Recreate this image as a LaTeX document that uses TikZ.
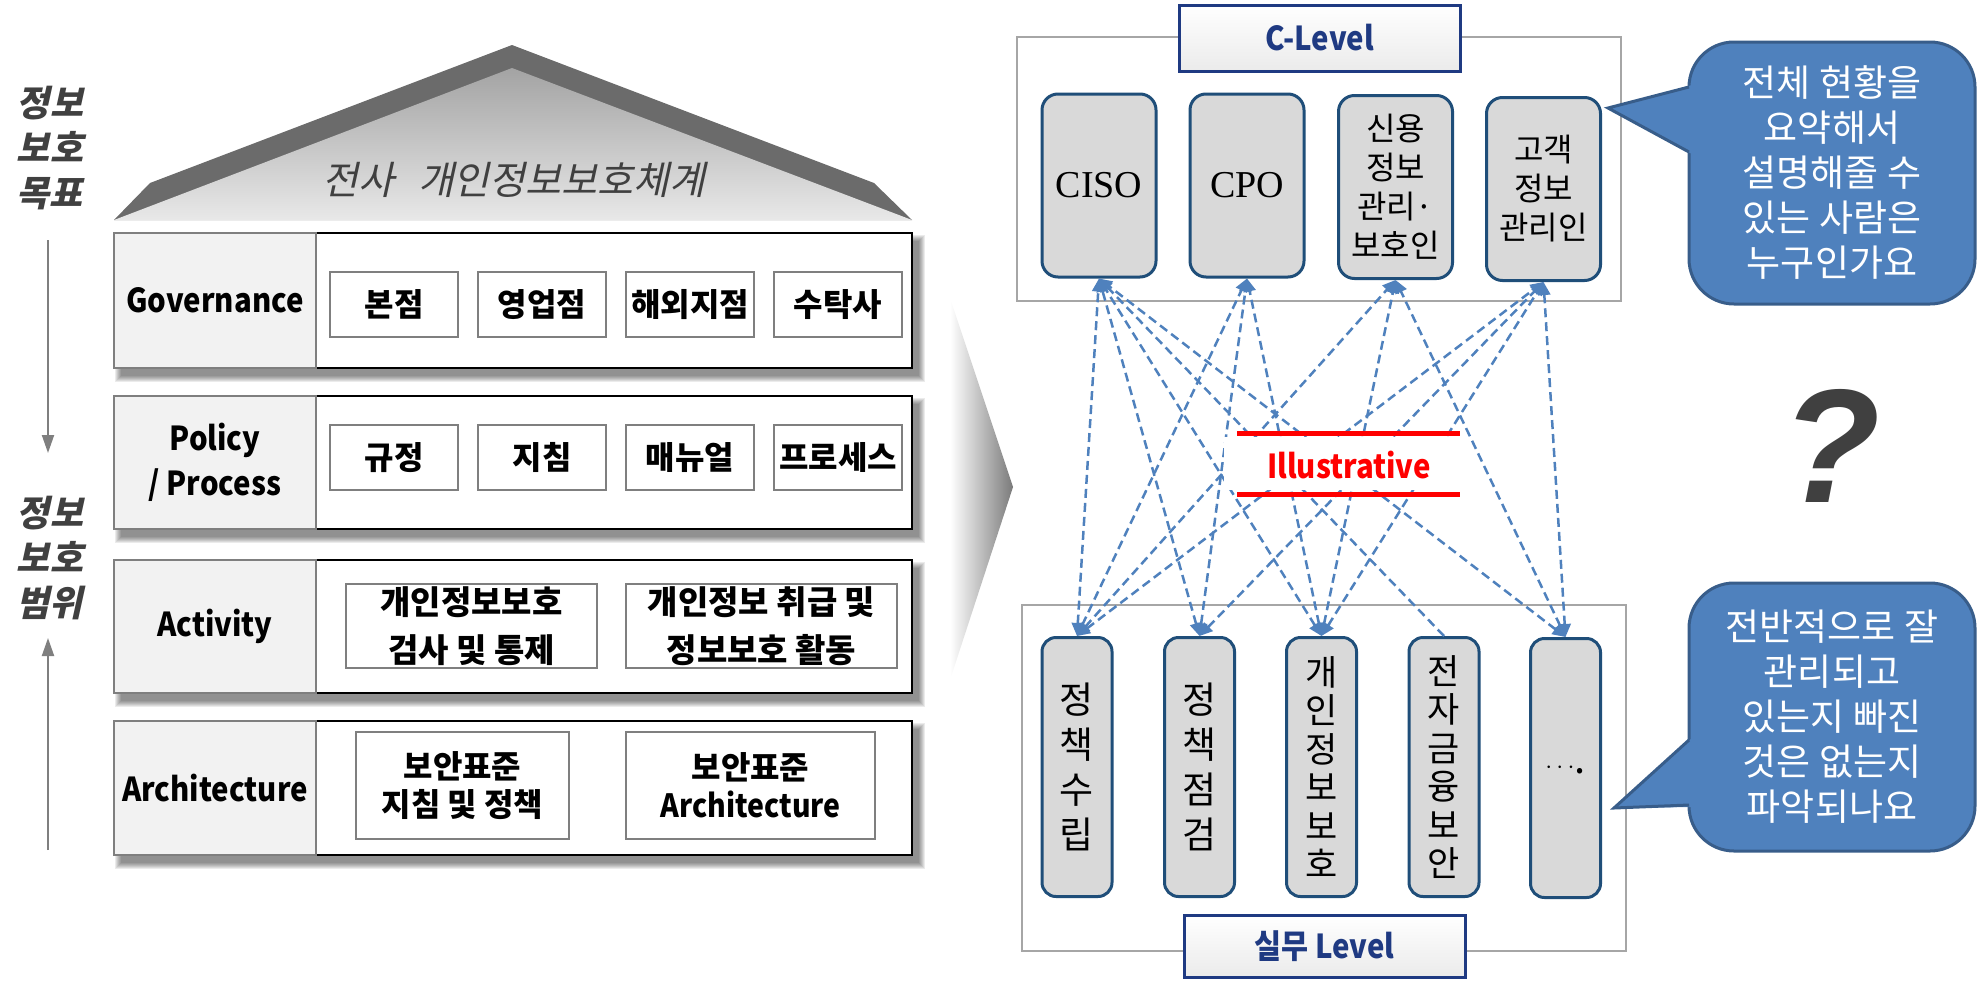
\documentclass[tikz,border=0pt]{standalone}
\usepackage{fontspec}
\setmainfont{Liberation Serif}
\newfontfamily\kr{Noto Sans CJK KR}
\newfontfamily\krsl{Noto Sans CJK KR}[FakeSlant=0.22]
\newfontfamily\krn{Noto Sans CJK KR}[FakeStretch=0.89]
\newfontfamily\lsans{Liberation Sans}
\usetikzlibrary{arrows.meta}

\definecolor{roofdark}{HTML}{6B6B6B}
\definecolor{txtgray}{HTML}{404040}
\definecolor{cellgray}{HTML}{F2F2F2}
\definecolor{edgegray}{HTML}{7F7F7F}
\definecolor{framegray}{HTML}{A6A6A6}
\definecolor{navy}{HTML}{1F3A82}
\definecolor{boxfill}{HTML}{D9D9D9}
\definecolor{boxedge}{HTML}{1F4E79}
\definecolor{linkblue}{HTML}{4F81BD}
\definecolor{bubbleedge}{HTML}{385D8A}

\newcommand\fs[2]{\fontsize{#1}{#2}\selectfont}
% soft shadow under a layer row (top y, bottom y)
\newcommand\rowshadow[2]{%
  \foreach \r in {0,...,6}{\fill[black,opacity=0.08] (121-\r,#1+8-\r) rectangle (919+\r,#2+8+\r);}}

\begin{document}
\begin{tikzpicture}[x=1pt,y=-1pt,
  cell/.style={draw=edgegray, line width=2pt, fill=cellgray, inner sep=0pt, align=center, font=\krn\bfseries\fs{33}{45}},
  item/.style={draw=edgegray, line width=1.5pt, fill=white, inner sep=0pt, align=center, font=\kr\bfseries\fs{32}{38}},
  lvl/.style={draw=navy, line width=3pt, top color=white, bottom color=black!8, text=navy, inner sep=0pt, font=\krn\bfseries\fs{33}{38}},
  role/.style={draw=boxedge, line width=3pt, fill=boxfill, rounded corners=16pt, inner sep=0pt, align=center, minimum width=114pt, minimum height=183pt},
  duty/.style={draw=boxedge, line width=3pt, fill=boxfill, rounded corners=14pt, inner sep=0pt, align=center, minimum width=70pt, minimum height=259pt, font=\kr\fs{37}{45}},
  link/.style={draw=linkblue, line width=2.5pt, dash pattern=on 9pt off 5pt, arrows={Triangle[length=13pt,width=12pt]-Triangle[length=13pt,width=12pt]}},
  linkone/.style={draw=linkblue, line width=2.5pt, dash pattern=on 9pt off 5pt, arrows={-Triangle[length=13pt,width=12pt]}},
  bubble/.style={draw=bubbleedge, line width=3pt, fill=linkblue, rounded corners=45pt, text=white, align=center, inner sep=0pt, font=\kr\fs{37}{45}},
  garrow/.style={draw=edgegray, line width=2pt, arrows={-Triangle[length=18pt,width=12pt]}},
  sidelabel/.style={text=txtgray, align=center, inner sep=0pt, font=\krsl\bfseries\fs{36}{45}},
]
\useasboundingbox (0,0) rectangle (1978,980);

% ---------- roof ----------
\fill[roofdark] (114,220) -- (150,183) -- (512,45) -- (874,183) -- (912,220) -- cycle;
\shade[top color=black!36, bottom color=black!9] (114,220) -- (512,68) -- (912,220) -- cycle;
\node[text=txtgray, inner sep=0pt, font=\krsl\fs{39}{42}] (rooftitle) at (514,180) {전사\hspace{0.6em}개인정보보호체계};

% ---------- side labels ----------
\node[sidelabel] (goal) at (50,148) {정보\\보호\\목표};
\node[sidelabel] (scope) at (50,558) {정보\\보호\\범위};
\coordinate (gtop) at (48,240);
\coordinate (gbot) at (48,453);
\coordinate (stop) at (48,638);
\coordinate (sbot) at (48,850);
\draw[garrow] (gtop) -- (gbot);
\draw[garrow] (sbot) -- (stop);

% ---------- Governance ----------
\rowshadow{233}{368}
\draw[line width=2pt, fill=white] (114,233) rectangle (912,368);
\node[cell, minimum width=202pt, minimum height=135pt] (gov) at (215,300.5) {Governance};
\node[item, minimum width=128pt, minimum height=65pt] (g1) at (394,304.5) {본점};
\node[item, minimum width=128pt, minimum height=65pt] (g2) at (542,304.5) {영업점};
\node[item, minimum width=128pt, minimum height=65pt] (g3) at (690,304.5) {해외지점};
\node[item, minimum width=128pt, minimum height=65pt] (g4) at (838,304.5) {수탁사};

% ---------- Policy / Process ----------
\rowshadow{396}{529}
\draw[line width=2pt, fill=white] (114,396) rectangle (912,529);
\node[cell, minimum width=202pt, minimum height=133pt] (pol) at (215,462.5) {Policy\\/ Process};
\node[item, minimum width=128pt, minimum height=65pt] (p1) at (394,457.5) {규정};
\node[item, minimum width=128pt, minimum height=65pt] (p2) at (542,457.5) {지침};
\node[item, minimum width=128pt, minimum height=65pt] (p3) at (690,457.5) {매뉴얼};
\node[item, minimum width=128pt, minimum height=65pt] (p4) at (838,457.5) {프로세스};

% ---------- Activity ----------
\rowshadow{560}{693}
\draw[line width=2pt, fill=white] (114,560) rectangle (912,693);
\node[cell, minimum width=202pt, minimum height=133pt] (act) at (215,626.5) {Activity};
\node[item, minimum width=251pt, minimum height=84pt, font=\kr\bfseries\fs{33}{48}] (a1) at (471.5,626) {개인정보보호\\검사 및 통제};
\node[item, minimum width=271pt, minimum height=84pt, font=\kr\bfseries\fs{33}{48}] (a2) at (761.5,626) {개인정보 취급 및\\정보보호 활동};

% ---------- Architecture ----------
\rowshadow{721}{855}
\draw[line width=2pt, fill=white] (114,721) rectangle (912,855);
\node[cell, minimum width=202pt, minimum height=134pt] (arch) at (215,788) {Architecture};
\node[item, minimum width=213pt, minimum height=107pt] (r1) at (462.5,785.5) {보안표준\\지침 및 정책};
\node[item, minimum width=249pt, minimum height=107pt] (r2) at (750.5,785.5) {보안표준\\{\krn Architecture}};

% ---------- transition chevron ----------
\shade[left color=white, right color=black!52] (950,298) -- (1013,487) -- (950,680) -- cycle;

% ---------- frames ----------
\draw[framegray, line width=2pt, fill=white] (1017,37) rectangle (1621,301);
\draw[framegray, line width=2pt, fill=white] (1022,605) rectangle (1626,951);

% ---------- C-level roles ----------
\node[role, font=\rmfamily\fs{38}{40}] (ciso) at (1099,185.5) {CISO};
\node[role, font=\rmfamily\fs{38}{40}] (cpo) at (1247,185.5) {CPO};
\node[role, font=\kr\fs{32}{39}] (credit) at (1395.5,187) {신용\\정보\\관리·\\보호인};
\node[role, font=\kr\fs{32}{39}] (cust) at (1543.5,189) {고객\\정보\\관리인};

% ---------- working-level duties ----------
\node[duty] (d1) at (1077,767) {정\\책\\수\\립};
\node[duty] (d2) at (1199.5,767) {정\\책\\점\\검};
\node[duty, font=\kr\fs{35}{38.5}] (d3) at (1321.5,767) {개\\인\\정\\보\\보\\호};
\node[duty, font=\kr\fs{35}{38.5}] (d4) at (1444,767) {전\\자\\금\\융\\보\\안};
\node[duty, font=\fs{50}{40}] (d5) at (1565.5,768) {$\cdots$\kr\fs{40}{40}.};

% ---------- links ----------
\draw[link] (d1.north) -- (ciso.south);
\draw[link] (d2.north) -- (ciso.south);
\draw[link] (d3.north) -- (ciso.south);
\draw[linkone] (d4.north) -- (ciso.south);
\draw[link] (d5.north) -- (ciso.south);
\draw[link] (d1.north) -- (cpo.south);
\draw[link] (d2.north) -- (cpo.south);
\draw[link] (d3.north) -- (cpo.south);
\draw[link] (d1.north) -- (credit.south);
\draw[link] (d3.north) -- (credit.south);
\draw[link] (d5.north) -- (credit.south);
\draw[link] (d1.north) -- (cust.south);
\draw[link] (d2.north) -- (cust.south);
\draw[link] (d3.north) -- (cust.south);
\draw[link] (d5.north) -- (cust.south);

% ---------- level labels ----------
\node[lvl, minimum width=281pt, minimum height=66pt] (clevel) at (1319.5,38) {C-Level};
\node[lvl, minimum width=281pt, minimum height=62pt] (wlevel) at (1324.5,946) {실무 Level};

% ---------- illustrative tag ----------
\fill[white] (1224,437) rectangle (1460,490);
\draw[red, line width=5pt] (1237,433) -- (1460,433);
\draw[red, line width=5pt] (1237,494) -- (1460,494);
\node[text=red, inner sep=0pt, font=\krn\bfseries\fs{33}{38}] (illus) at (1349,465) {Illustrative};

% ---------- call-outs ----------
\node[bubble, minimum width=286pt, minimum height=262pt] (ask1) at (1832,173) {전체 현황을\\요약해서\\설명해줄 수\\있는 사람은\\누구인가요};
\fill[linkblue] (1692,85) -- (1608,108) -- (1692,154) -- cycle;
\coordinate (t1a) at (1689,87);
\coordinate (t1tip) at (1608,108);
\coordinate (t1b) at (1689,152);
\draw[bubbleedge, line width=3pt, line join=miter] (t1a) -- (t1tip) -- (t1b);

\node[bubble, minimum width=286pt, minimum height=268pt] (ask2) at (1832,717) {전반적으로 잘\\관리되고\\있는지 빠진\\것은 없는지\\파악되나요};
\fill[linkblue] (1692,738) -- (1614,808) -- (1692,807) -- cycle;
\coordinate (t2a) at (1689,740);
\coordinate (t2tip) at (1614,808);
\coordinate (t2b) at (1689,805);
\draw[bubbleedge, line width=3pt, line join=miter] (t2a) -- (t2tip) -- (t2b);

% ---------- question mark ----------
\node[text=txtgray, inner sep=0pt, font=\lsans\bfseries\itshape\fs{162}{170}] (qmark) at (1831,446) {?};
\end{tikzpicture}
\end{document}
